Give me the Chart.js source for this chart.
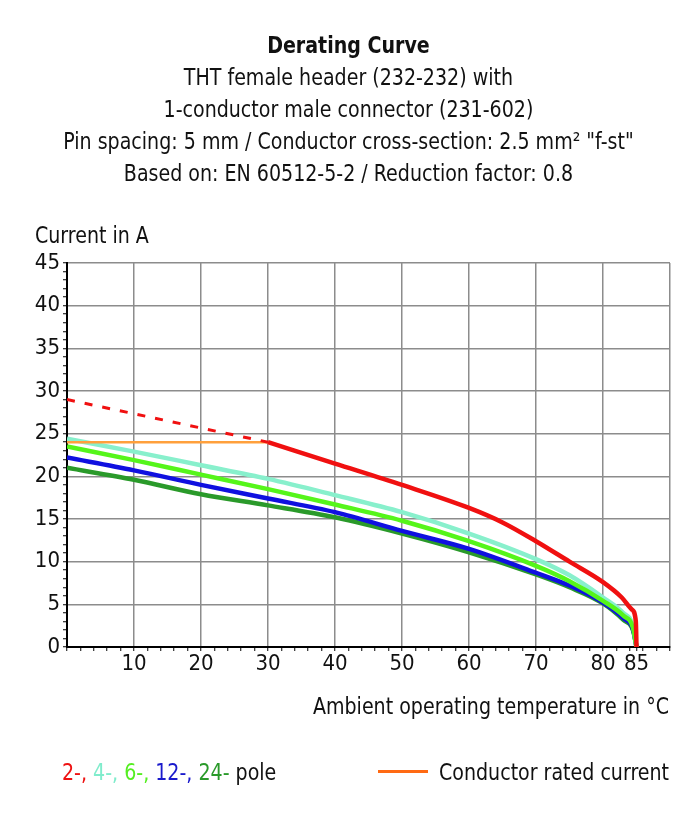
<!DOCTYPE html>
<html>
<head>
<meta charset="utf-8">
<script src="https://cdn.jsdelivr.net/npm/chart.js@4/dist/chart.umd.min.js"></script>
<style>
  body { margin: 0; background: #fff; }
  #wrap { position: relative; width: 697px; height: 817px; font-family: "DejaVu Sans Condensed", "DejaVu Sans", sans-serif; color: #111; }
  #chart { position: absolute; left: 0; top: 0; }
  .txt { position: absolute; font-size: 23px; line-height: 32px; white-space: nowrap; transform: scaleX(0.92); }
  .center { left: 0; width: 697px; text-align: center; transform-origin: 348px 0; }
  .left { transform-origin: 0 0; }
  .right { transform-origin: 100% 0; }
</style>
</head>
<body>
<div id="wrap">
  <canvas id="chart" width="697" height="817"></canvas>
  <div class="txt center" style="top:29px;font-weight:bold">Derating Curve</div>
  <div class="txt center" style="top:61px">THT female header (232-232) with</div>
  <div class="txt center" style="top:93px">1-conductor male connector (231-602)</div>
  <div class="txt center" style="top:125px">Pin spacing: 5 mm / Conductor cross-section: 2.5 mm² "f-st"</div>
  <div class="txt center" style="top:157px">Based on: EN 60512-5-2 / Reduction factor: 0.8</div>
  <div class="txt left" style="top:219px;left:35px">Current in A</div>
  <div class="txt right" style="top:690px;right:28px">Ambient operating temperature in °C</div>
  <div class="txt left" style="top:756px;left:62px">
    <span style="color:#ee1111">2-,</span>
    <span style="color:#80eccc">4-,</span>
    <span style="color:#55ee22">6-,</span>
    <span style="color:#1a1acc">12-,</span>
    <span style="color:#2a9a2a">24-</span> pole
  </div>
  <div style="position:absolute;left:378px;top:770px;width:50px;height:3px;background:#ff6a13"></div>
  <div class="txt right" style="top:756px;right:28px">Conductor rated current</div>
</div>
<script>
/* --------------- Data --------------------- */
const tempsPole = [0, 10, 20, 30, 40, 50, 60, 70, 75, 80, 83, 84.5, 85];
const pole4 = [24.4, 22.9, 21.3, 19.7, 17.8, 15.8, 13.3, 10.3, 8.4, 5.8, 4.0, 2.4, 0];
const pole6 = [23.5, 21.9, 20.2, 18.5, 16.7, 14.8, 12.4, 9.5, 7.7, 5.4, 3.7, 2.2, 0];
const pole12 = [22.2, 20.7, 19.0, 17.4, 15.8, 13.6, 11.5, 8.7, 7.2, 5.2, 3.4, 2.0, 0];
const pole24 = [21.0, 19.6, 17.9, 16.6, 15.2, 13.3, 11.1, 8.5, 7.0, 5.1, 3.2, 1.9, 0];

const tempsPole2 = [30, 40, 50, 60, 65, 70, 75, 80, 82.8, 84.3, 84.9, 85];
const pole2 = [24, 21.5, 19.0, 16.3, 14.6, 12.4, 10.0, 7.6, 5.8, 4.4, 3.0, 0];

const tempsPole2Dashed = [0, 30];
const pole2Dashed = [29, 24];

const tempsRated = [0, 30];
const ratedCurrent = [24, 24];

const xTickLabels = [10, 20, 30, 40, 50, 60, 70, 80, 85];
const yTickLabels = [0, 5, 10, 15, 20, 25, 30, 35, 40, 45];

/* --------------- Helpers --------------------- */
const pts = (xs, ys) => xs.map((x, i) => ({ x: x, y: ys[i] }));
const xTicks = [];
for (let v = 0; v <= 90; v += 2) { xTicks.push(v); if (v === 84) xTicks.push(85); }
const yTicks = [];
for (let v = 0; v <= 45; v++) yTicks.push(v);

const curve = (data, color, order) => ({
  data: data,
  borderColor: color,
  borderWidth: 4.5,
  pointRadius: 0,
  cubicInterpolationMode: "monotone",
  fill: false,
  order: order,
});

const FONT = "'DejaVu Sans Condensed', 'DejaVu Sans', sans-serif";
const gridGray = "#8c8c8c";

/* --------------- Chart --------------------- */
new Chart(document.getElementById("chart"), {
  type: "line",
  data: {
    datasets: [
      curve(pts(tempsPole, pole24), "#2a9a2a", 6),
      curve(pts(tempsPole, pole12), "#1010e0", 5),
      curve(pts(tempsPole, pole4), "#88f0cc", 4),
      curve(pts(tempsPole, pole6), "#55f51a", 3),
      curve(pts(tempsPole2, pole2), "#f01010", 2),
      {
        data: pts(tempsRated, ratedCurrent),
        borderColor: "#ffa03c",
        borderWidth: 2.5,
        pointRadius: 0,
        order: 1,
      },
      {
        data: pts(tempsPole2Dashed, pole2Dashed),
        borderColor: "#f01010",
        borderWidth: 3,
        borderDash: [8, 10],
        pointRadius: 0,
        order: 0,
      },
    ],
  },
  options: {
    responsive: false,
    animation: false,
    devicePixelRatio: 1,
    layout: { padding: { top: 263, left: 0, right: 27, bottom: 130 } },
    plugins: { legend: { display: false }, tooltip: { enabled: false } },
    scales: {
      x: {
        type: "linear",
        min: 0,
        max: 90,
        afterBuildTicks: (s) => { s.ticks = xTicks.map((v) => ({ value: v })); },
        afterFit: (s) => { s.height = 40; },
        grid: {
          color: (c) => (c.tick && c.tick.value % 10 === 0 ? gridGray : "rgba(0,0,0,0)"),
          lineWidth: 1.5,
          tickColor: "#000",
          tickLength: 4,
          tickWidth: 1,
        },
        border: { color: "#000", width: 2 },
        ticks: {
          autoSkip: false,
          maxRotation: 0,
          padding: 0,
          color: "#111",
          font: { family: FONT, size: 22 },
          callback: (v) => (xTickLabels.includes(v) ? String(v) : ""),
        },
      },
      y: {
        type: "linear",
        min: 0,
        max: 45,
        afterBuildTicks: (s) => { s.ticks = yTicks.map((v) => ({ value: v })); },
        afterFit: (s) => { s.width = 67; },
        grid: {
          color: (c) => (c.tick && c.tick.value % 5 === 0 ? gridGray : "rgba(0,0,0,0)"),
          lineWidth: 1.5,
          tickColor: "#000",
          tickLength: 4,
          tickWidth: 1,
        },
        border: { color: "#000", width: 2 },
        ticks: {
          autoSkip: false,
          padding: 3,
          color: "#111",
          font: { family: FONT, size: 22 },
          callback: (v) => (yTickLabels.includes(v) ? String(v) : ""),
        },
      },
    },
  },
});
</script>
</body>
</html>
